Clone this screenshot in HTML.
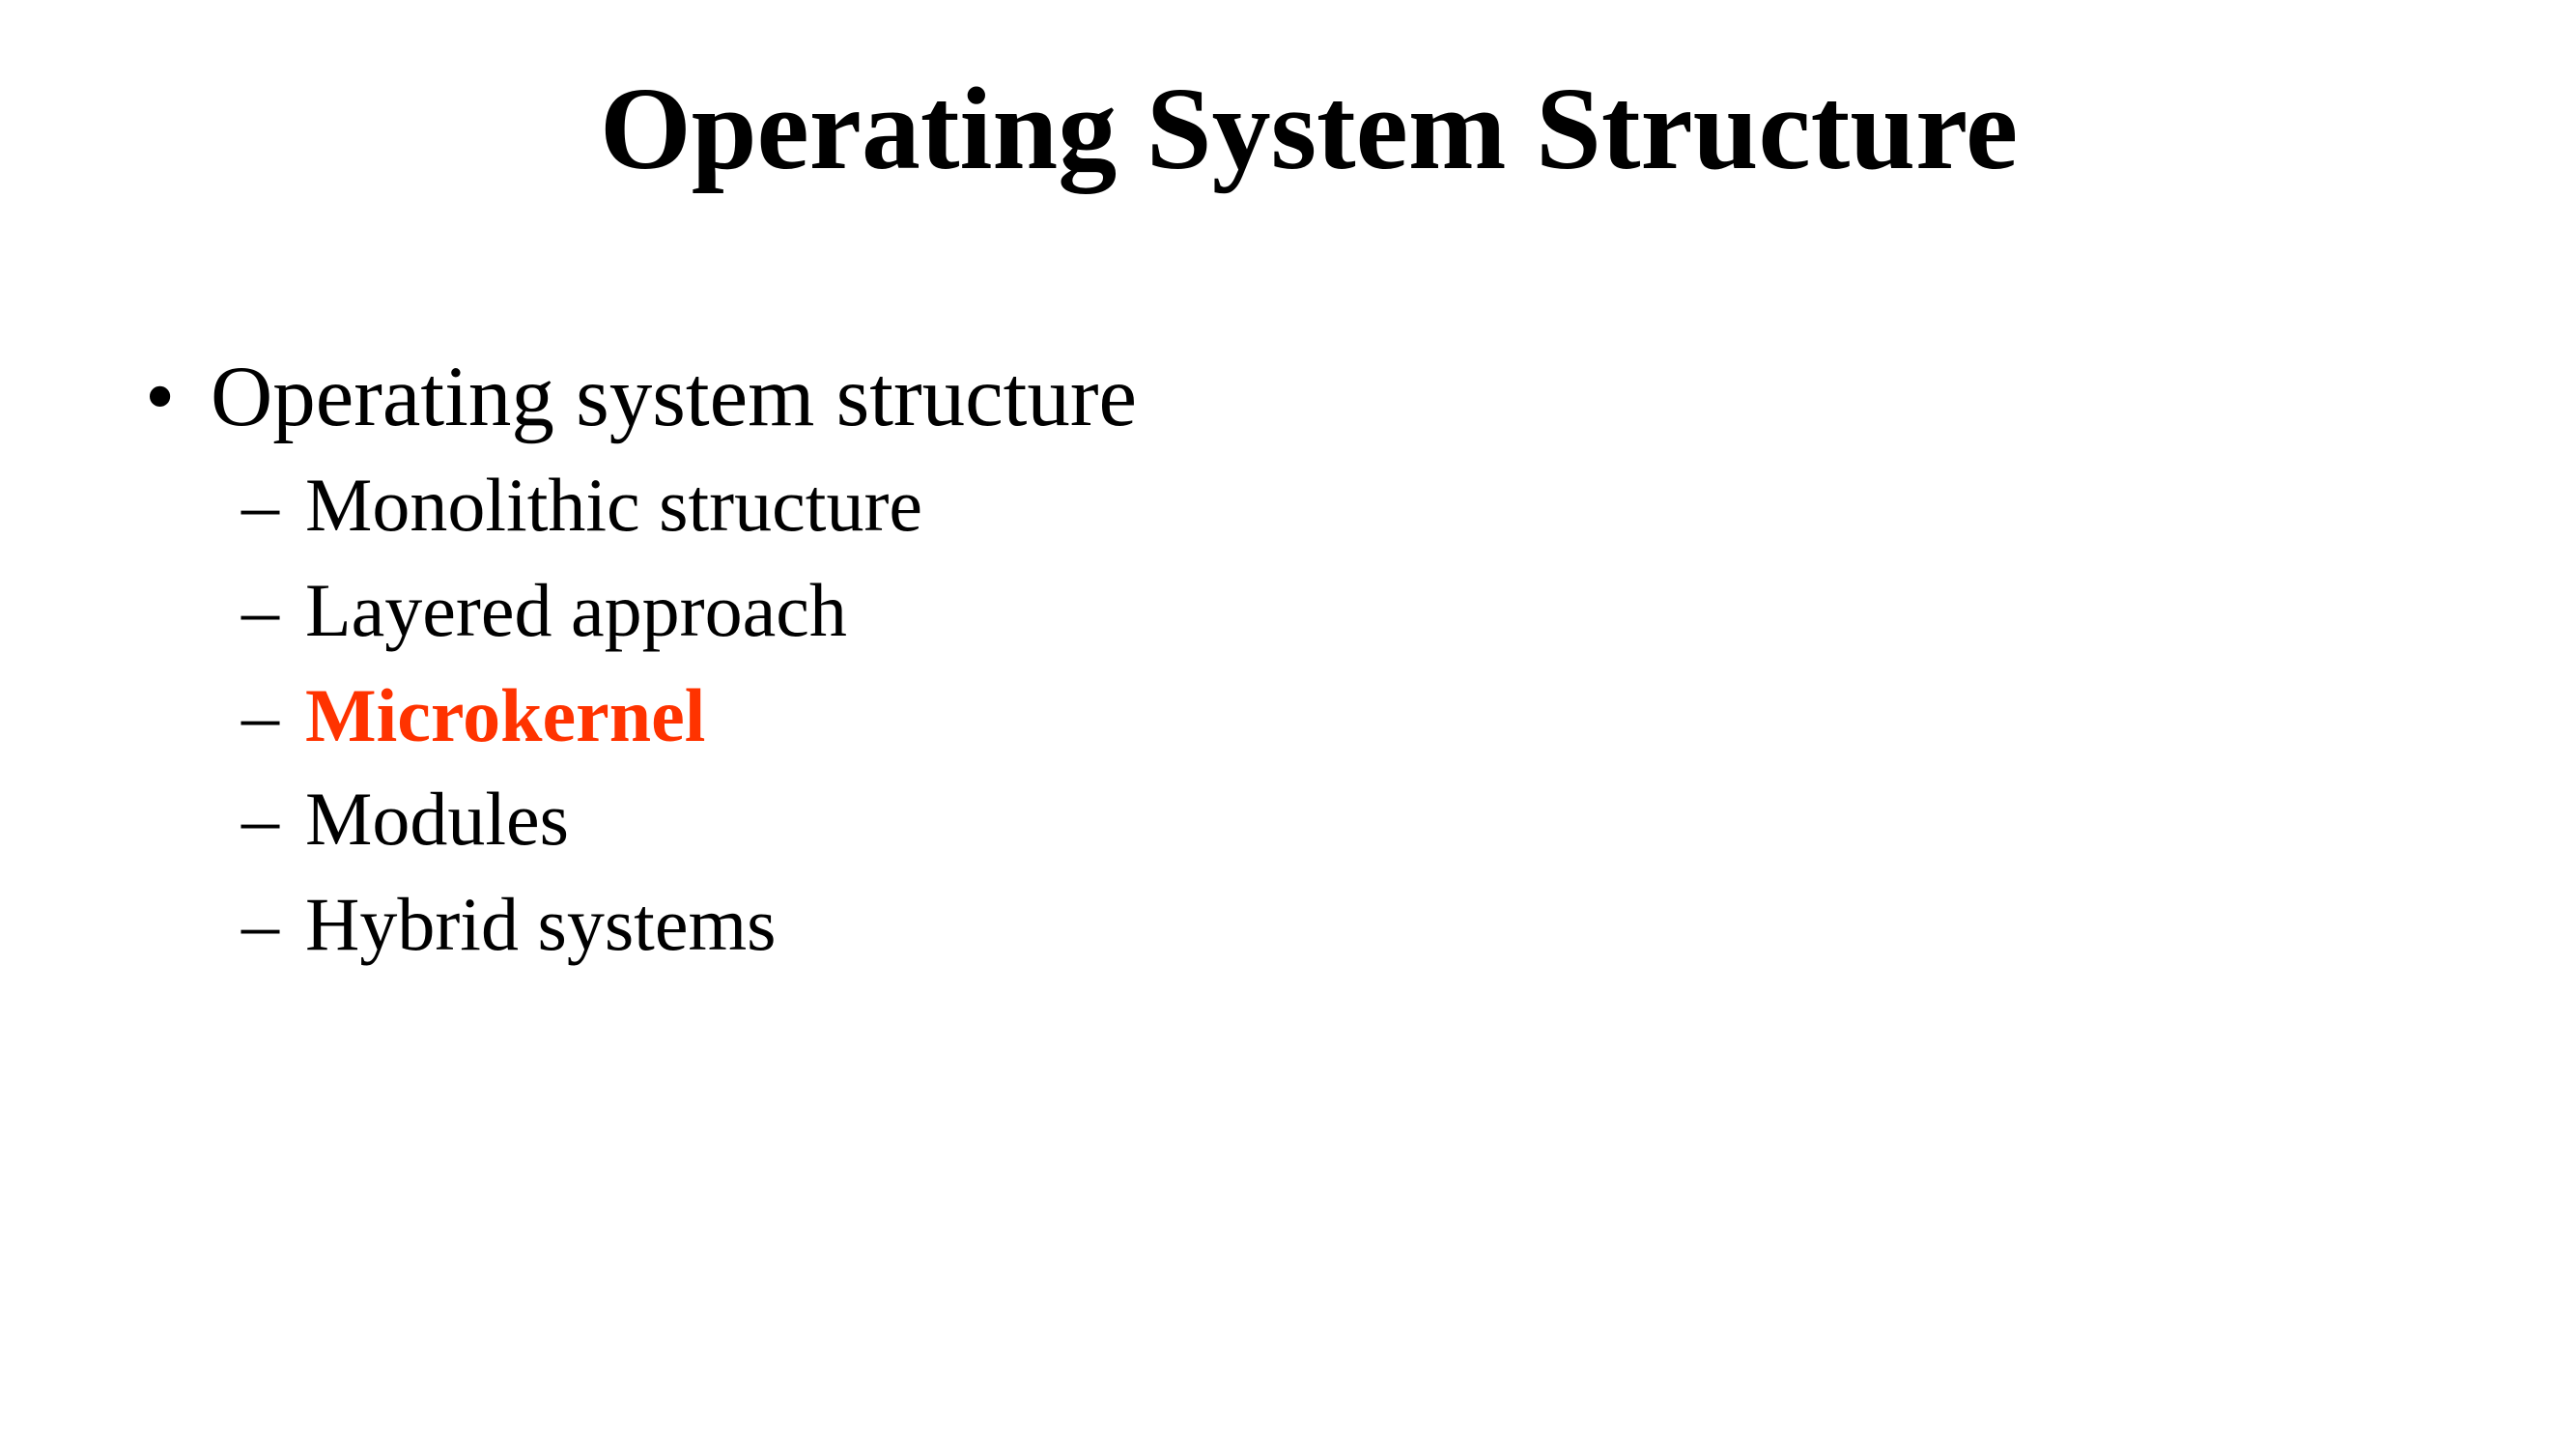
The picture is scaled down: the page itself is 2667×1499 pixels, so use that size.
<!DOCTYPE html>
<html><head><meta charset="utf-8"><style>
html,body{margin:0;padding:0;background:#fff;}
body{width:2667px;height:1499px;position:relative;overflow:hidden;font-family:"Liberation Serif","Times New Roman",serif;color:#000;}
.t{position:absolute;white-space:nowrap;line-height:1;}
</style></head><body>
<div class="t" style="left:0;width:2710px;text-align:center;top:73px;font-size:122px;font-weight:bold;">Operating System Structure</div>
<div class="t" style="left:150px;top:367px;font-size:89px;">•</div>
<div class="t" style="left:218px;top:367px;font-size:89px;">Operating system structure</div>
<div class="t" style="left:250px;top:484px;font-size:78px;">–</div>
<div class="t" style="left:316px;top:484px;font-size:78px;">Monolithic structure</div>
<div class="t" style="left:250px;top:593px;font-size:78px;">–</div>
<div class="t" style="left:316px;top:593px;font-size:78px;">Layered approach</div>
<div class="t" style="left:250px;top:702px;font-size:78px;">–</div>
<div class="t" style="left:316px;top:702px;font-size:78px;font-weight:bold;color:#ff3300;">Microkernel</div>
<div class="t" style="left:250px;top:809px;font-size:78px;">–</div>
<div class="t" style="left:316px;top:809px;font-size:78px;">Modules</div>
<div class="t" style="left:250px;top:918px;font-size:78px;">–</div>
<div class="t" style="left:316px;top:918px;font-size:78px;">Hybrid systems</div>
</body></html>
